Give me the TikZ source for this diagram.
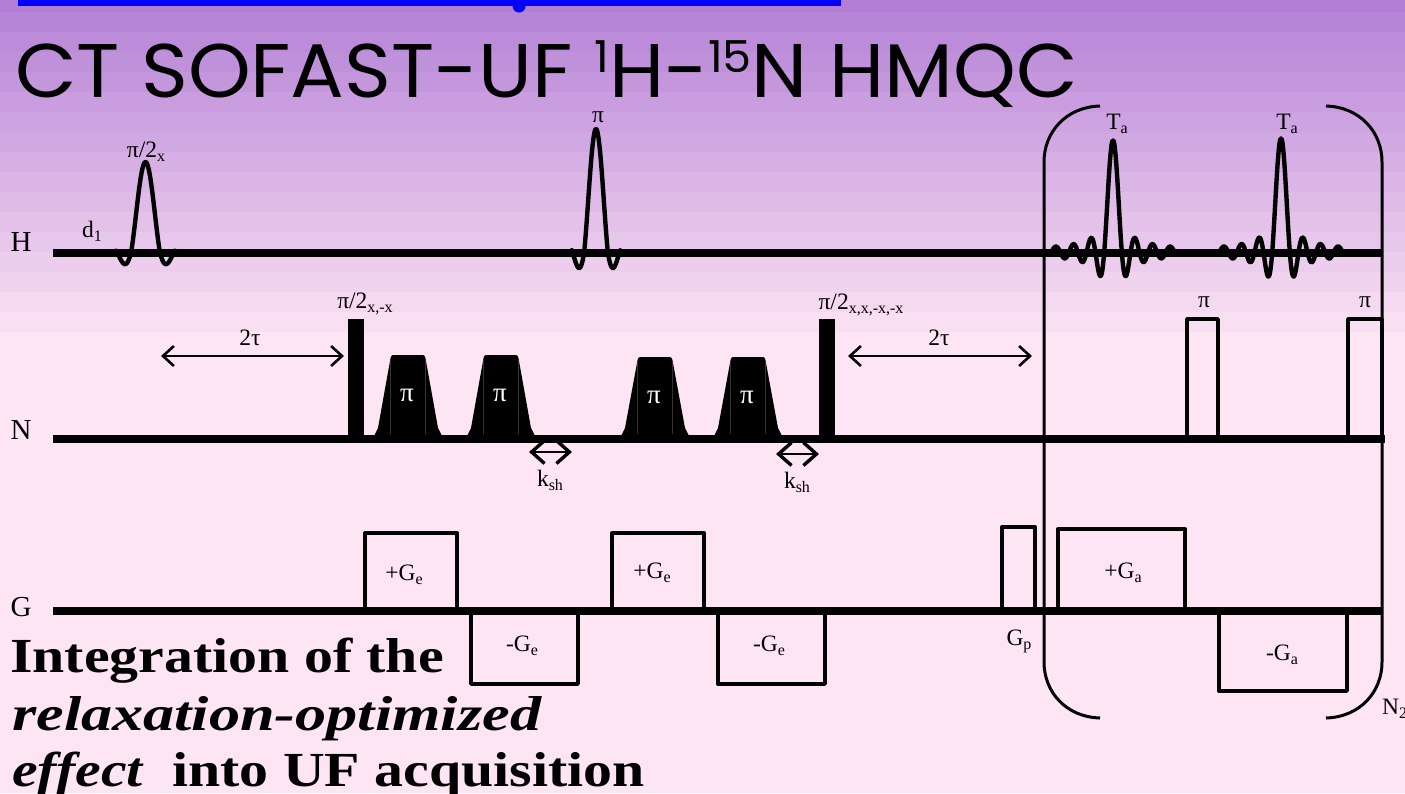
\documentclass[tikz,border=0pt]{standalone}
\usepackage{fontspec}
\setmainfont{Liberation Serif}
\newfontfamily\titlefont[FakeStretch=1.05]{Poppins}
\newfontfamily\notefont[FakeStretch=1.18]{Liberation Serif}
\newfontfamily\noteitfont[FakeStretch=1.27]{Liberation Serif}
\usetikzlibrary{arrows.meta}
\definecolor{bgtop}{RGB}{179,127,214}
\definecolor{bgpage}{RGB}{253,229,244}
\newcommand{\sbs}[1]{\raisebox{-4pt}{\fontsize{16}{16}\selectfont #1}}
\newcommand{\sincpulse}[6]{\draw[pulseline] plot[domain=-#5:#5,samples=120,smooth] ({#1+#4*\x},{#2-#3*sin(180*\x)/(3.14159*\x)*(abs(\x)>1?#6:1)});}
\tikzset{
  pulseline/.style={line width=4.4pt,line cap=round,line join=round},
  chanline/.style={line width=8pt},
  boxline/.style={line width=3.6pt,line join=round},
  gradline/.style={line width=3.4pt,line join=round},
  bracketline/.style={line width=3pt},
  spanarrow/.style={line width=2pt,{Straight Barb[length=11pt,width=20pt,line width=2.6pt]}-{Straight Barb[length=11pt,width=20pt,line width=2.6pt]}},
  shiftarrow/.style={line width=1.6pt,{Straight Barb[length=13pt,width=23pt,line width=3.4pt]}-{Straight Barb[length=13pt,width=23pt,line width=3.4pt]}},
  lbl/.style={inner sep=0pt,font=\fontsize{23.5}{25}\selectfont},
  chanlbl/.style={inner sep=0pt,font=\fontsize{29}{31}\selectfont},
  notelbl/.style={inner sep=0pt,anchor=base west,font=\notefont\bfseries\fontsize{49}{52}\selectfont},
  noteitlbl/.style={inner sep=0pt,anchor=base west,font=\noteitfont\bfseries\itshape\fontsize{49}{52}\selectfont},
}
\begin{document}
\begin{tikzpicture}[x=1pt,y=-1pt]
\useasboundingbox (0,0) rectangle (1405,793);
\clip (0,0) rectangle (1405,793);
\fill[bgpage] (0,0) rectangle (1405,793);
\foreach \i in {0,...,16} {
  \pgfmathsetmacro\pct{100*(17-\i)/17}
  \fill[bgtop!\pct!bgpage] (0,{20*\i-8}) rectangle (1405,{20*\i+12});
}
\fill[blue] (18,0) rectangle (841,6);
\fill[blue] (519,6) circle (6.5);
\node[inner sep=0pt,anchor=base west,font=\titlefont\fontsize{76}{80}\selectfont] (title) at (15,97) {CT SOFAST-UF \raisebox{25pt}{\fontsize{44}{44}\selectfont 1}H-\raisebox{25pt}{\fontsize{44}{44}\selectfont 15}N HMQC};

\draw[chanline] (53,252.5) -- (1383,252.5);
\draw[chanline] (53,438.5) -- (1385,438.5);
\draw[chanline] (53,610.5) -- (1383,610.5);
\node[chanlbl] (chH) at (21,242) {H};
\node[chanlbl] (chN) at (21,430) {N};
\node[chanlbl] (chG) at (21,607) {G};

\sincpulse{145.5}{252}{90}{14.3}{2.05}{0.62}
\sincpulse{596}{252}{123}{11.8}{2.05}{0.6}
\sincpulse{1113}{252}{112}{8.8}{7}{1}
\sincpulse{1281}{252}{114}{8.8}{7}{1}
\node[lbl] (delay) at (92,231) {d\sbs{1}};
\node[lbl] (hNinety) at (146,152) {π/2\sbs{x}};
\node[lbl] (hPi) at (598,117) {π};
\node[lbl] (acqA) at (1117,124) {T\sbs{a}};
\node[lbl] (acqB) at (1287,124) {T\sbs{a}};

\fill (348,319) rectangle (364,438);
\fill (819,319) rectangle (835,438);
\node[lbl] (nNinetyA) at (365,304) {π/2\sbs{x,-x}};
\node[lbl] (nNinetyB) at (861,305) {π/2\sbs{x,x,-x,-x}};
\foreach \cx/\tp in {408/355,501/355,655/357,748/357} {
  \fill (\cx-35,438) -- (\cx-30,428) -- (\cx-18,{\tp+6}) .. controls (\cx-17,\tp) .. (\cx-12,\tp) -- (\cx+12,\tp) .. controls (\cx+17,\tp) .. (\cx+18,{\tp+6}) -- (\cx+30,428) -- (\cx+35,438) -- cycle;
  \draw[black!80,line width=0.3pt] (\cx-17.5,{\tp+4}) -- (\cx-17.5,434) (\cx+17.5,{\tp+4}) -- (\cx+17.5,434);
  \node[lbl,white,font=\fontsize{27}{28}\selectfont] (shp\cx) at (\cx-1,{\tp+40}) {π};
}

\coordinate (tauAl) at (161,356);
\coordinate (tauAr) at (344,356);
\coordinate (tauBl) at (848,356);
\coordinate (tauBr) at (1032,356);
\coordinate (kshAl) at (529,452);
\coordinate (kshAr) at (572,452);
\coordinate (kshBl) at (776,454);
\coordinate (kshBr) at (819,454);
\draw[spanarrow] (tauAl) -- (tauAr);
\draw[spanarrow] (tauBl) -- (tauBr);
\draw[shiftarrow] (kshAl) -- (kshAr);
\draw[shiftarrow] (kshBl) -- (kshBr);
\node[lbl] (tauA) at (250,338) {2τ};
\node[lbl] (tauB) at (939,338) {2τ};
\node[lbl] (kshA) at (550,480) {k\sbs{sh}};
\node[lbl] (kshB) at (797,482) {k\sbs{sh}};

\draw[boxline] (1187,438) -- (1187,319) -- (1218,319) -- (1218,438);
\draw[boxline] (1348,438) -- (1348,319) -- (1382,319) -- (1382,438);
\node[lbl] (nPiA) at (1204,302) {π};
\node[lbl] (nPiB) at (1365,302) {π};

\draw[gradline] (365,610) -- (365,533) -- (457,533) -- (457,610);
\draw[gradline] (612,610) -- (612,533) -- (704,533) -- (704,610);
\draw[gradline] (471,610) -- (471,684) -- (578,684) -- (578,610);
\draw[gradline] (718,610) -- (718,684) -- (825,684) -- (825,610);
\draw[gradline] (1002,610) -- (1002,527) -- (1035,527) -- (1035,610);
\draw[gradline] (1058,610) -- (1058,529) -- (1185,529) -- (1185,610);
\draw[gradline] (1219,610) -- (1219,691) -- (1347,691) -- (1347,610);
\node[lbl] (gradA) at (404,575) {+G\sbs{e}};
\node[lbl] (gradB) at (652,573) {+G\sbs{e}};
\node[lbl] (gradC) at (522,646) {-G\sbs{e}};
\node[lbl] (gradD) at (769,646) {-G\sbs{e}};
\node[lbl] (gradP) at (1019,641) {G\sbs{p}};
\node[lbl] (gradE) at (1123,573) {+G\sbs{a}};
\node[lbl] (gradF) at (1282,655) {-G\sbs{a}};

\draw[bracketline] (1100,106) .. controls (1066,107) and (1044,132) .. (1044,162) -- (1044,662) .. controls (1044,692) and (1066,717) .. (1100,718);
\draw[bracketline] (1326,106) .. controls (1360,107) and (1382,132) .. (1382,162) -- (1382,662) .. controls (1382,692) and (1360,717) .. (1326,718);
\node[lbl,anchor=base west] (loopN) at (1382,714) {N\sbs{2}};

\node[notelbl] (noteA) at (10,672) {Integration of the};
\node[noteitlbl] (noteB) at (12,730) {relaxation-optimized};
\node[notelbl,font=\notefont\bfseries\itshape\fontsize{49}{52}\selectfont] (noteC) at (12,786) {effect};
\node[notelbl] (noteD) at (172,786) {into UF acquisition};
\end{tikzpicture}
\end{document}
